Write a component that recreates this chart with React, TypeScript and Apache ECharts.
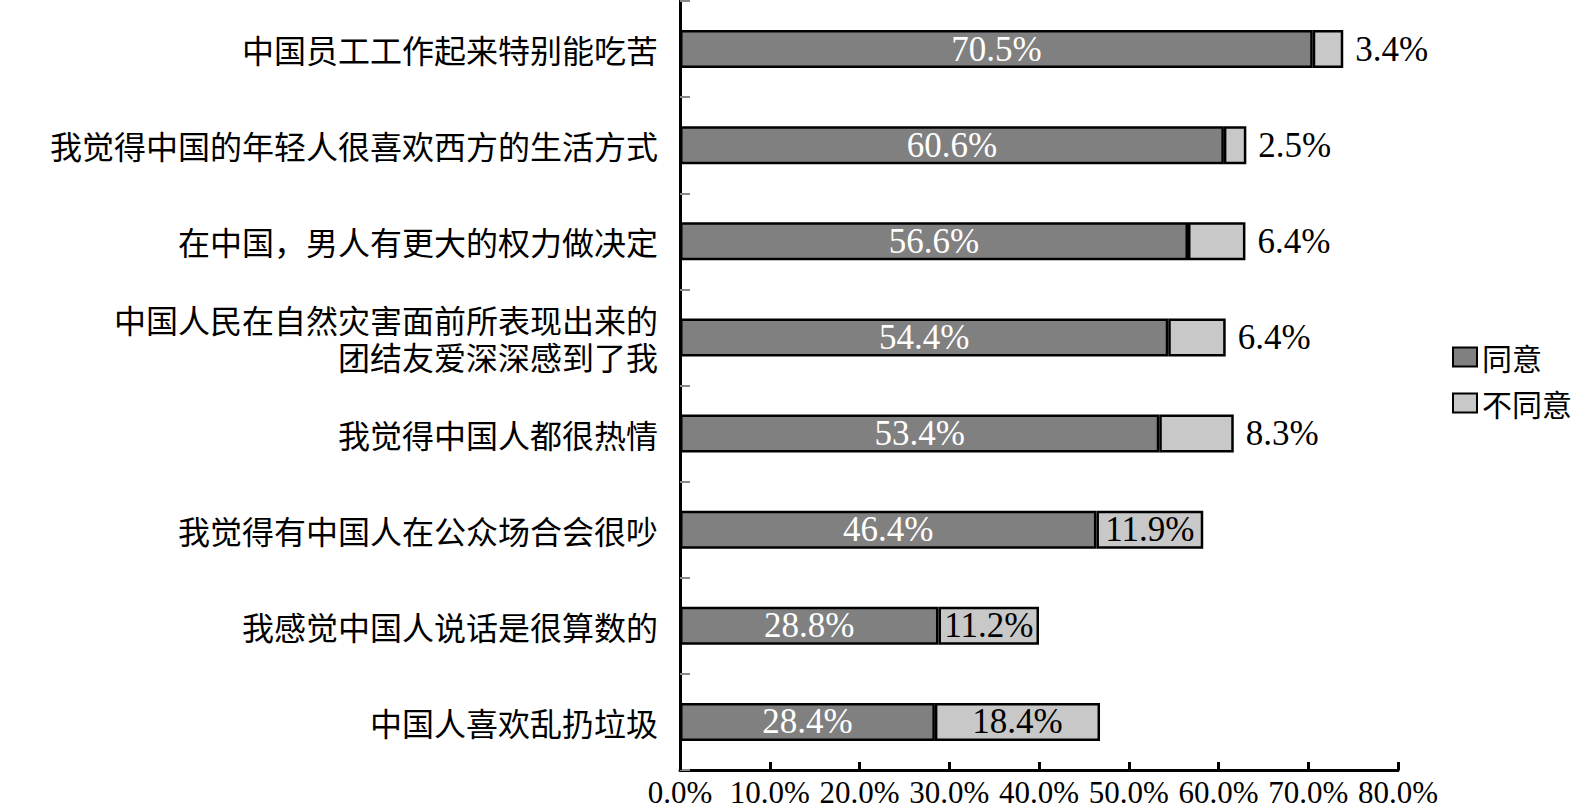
import React, { useEffect, useRef } from "react";
import * as echarts from "echarts";

const categories = [
  "中国员工工作起来特别能吃苦",
  "我觉得中国的年轻人很喜欢西方的生活方式",
  "在中国，男人有更大的权力做决定",
  "中国人民在自然灾害面前所表现出来的\n团结友爱深深感到了我",
  "我觉得中国人都很热情",
  "我觉得有中国人在公众场合会很吵",
  "我感觉中国人说话是很算数的",
  "中国人喜欢乱扔垃圾",
];
const agree = [70.5, 60.6, 56.6, 54.4, 53.4, 46.4, 28.8, 28.4];
const disagree = [3.4, 2.5, 6.4, 6.4, 8.3, 11.9, 11.2, 18.4];
const seriesNames = ["同意", "不同意"];

const NUM_FONT = "'Liberation Serif', 'Noto Sans CJK SC', serif";
const CJK_FONT = "'Noto Sans CJK SC', 'Liberation Serif', serif";

export default function App() {
  const ref = useRef<HTMLDivElement>(null);
  useEffect(() => {
    document.body.style.margin = "0";
    const chart = echarts.init(ref.current!, null, { renderer: "svg" });
    const fmt = (p: any) => Number(p.value).toFixed(1) + "%";
    chart.setOption({
      animation: false,
      backgroundColor: "#ffffff",
      grid: { left: 680, right: 180, top: 1, bottom: 39, containLabel: false },
      legend: {
        orient: "vertical",
        left: 1447,
        top: 337,
        itemWidth: 24,
        itemHeight: 19,
        itemGap: 16,
        icon: "rect",
        textStyle: { fontSize: 30, color: "#000", fontFamily: CJK_FONT },
        data: seriesNames,
      },
      xAxis: {
        type: "value",
        min: 0,
        max: 80,
        interval: 10,
        axisLine: { show: true, lineStyle: { color: "#000", width: 3 } },
        axisTick: { show: true, inside: true, length: 8, lineStyle: { color: "#000", width: 3 } },
        splitLine: { show: false },
        axisLabel: {
          formatter: (v: number) => v.toFixed(1) + "%",
          fontSize: 31,
          color: "#000",
          fontFamily: NUM_FONT,
          margin: 7,
        },
      },
      yAxis: {
        type: "category",
        inverse: true,
        data: categories,
        axisLine: { show: true, lineStyle: { color: "#000", width: 3 } },
        axisTick: { show: true, inside: true, length: 10, lineStyle: { color: "#888", width: 2 } },
        axisLabel: {
          fontSize: 32,
          color: "#000",
          fontFamily: CJK_FONT,
          margin: 22,
          lineHeight: 37,
          align: "right",
        },
      },
      series: [
        {
          name: seriesNames[0],
          type: "bar",
          stack: "total",
          barWidth: 38,
          itemStyle: { color: "#808080", borderColor: "#000", borderWidth: 2.5 },
          label: {
            show: true,
            position: "inside",
            color: "#fff",
            fontSize: 35,
            fontFamily: NUM_FONT,
            formatter: fmt,
          },
          data: agree,
        },
        {
          name: seriesNames[1],
          type: "bar",
          stack: "total",
          barWidth: 38,
          itemStyle: { color: "#c8c8c8", borderColor: "#000", borderWidth: 2.5 },
          label: {
            show: true,
            color: "#000",
            fontSize: 35,
            fontFamily: NUM_FONT,
            formatter: fmt,
          },
          data: disagree.map((v) => ({
            value: v,
            label: { position: v < 10 ? "right" : "inside", distance: 12 },
          })),
        },
      ],
    });
    return () => chart.dispose();
  }, []);
  return <div ref={ref} style={{ width: 1578, height: 809 }} />;
}
